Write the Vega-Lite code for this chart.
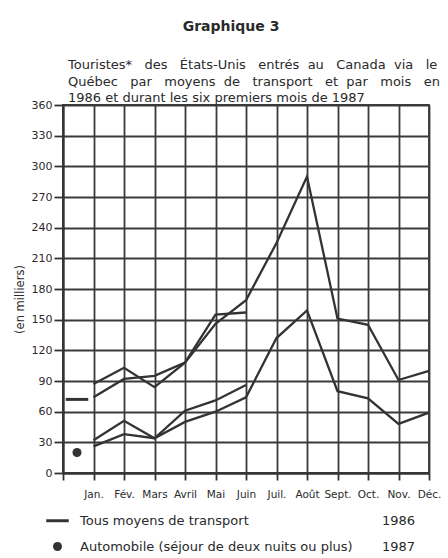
{
  "$schema": "https://vega.github.io/schema/vega-lite/v6.json",
  "background": "white",
  "padding": {"left": 13, "top": 20, "right": 5, "bottom": 5},
  "title": {"text": "Graphique 3", "fontSize": 14, "fontWeight": "bold", "anchor": "middle", "frame": "group", "dx": -15, "offset": 24, "color": "#2a2a2a"},
  "datasets": {
    "series": [
      {"mois": "Jan.", "serie": "Tous moyens 1986", "valeur": 87},
      {"mois": "Fév.", "serie": "Tous moyens 1986", "valeur": 103},
      {"mois": "Mars", "serie": "Tous moyens 1986", "valeur": 84},
      {"mois": "Avril", "serie": "Tous moyens 1986", "valeur": 108},
      {"mois": "Mai", "serie": "Tous moyens 1986", "valeur": 146},
      {"mois": "Juin", "serie": "Tous moyens 1986", "valeur": 169},
      {"mois": "Juil.", "serie": "Tous moyens 1986", "valeur": 225},
      {"mois": "Août", "serie": "Tous moyens 1986", "valeur": 290},
      {"mois": "Sept.", "serie": "Tous moyens 1986", "valeur": 151},
      {"mois": "Oct.", "serie": "Tous moyens 1986", "valeur": 145},
      {"mois": "Nov.", "serie": "Tous moyens 1986", "valeur": 91},
      {"mois": "Déc.", "serie": "Tous moyens 1986", "valeur": 100},
      {"mois": "Jan.", "serie": "Tous moyens 1987", "valeur": 74},
      {"mois": "Fév.", "serie": "Tous moyens 1987", "valeur": 92},
      {"mois": "Mars", "serie": "Tous moyens 1987", "valeur": 95},
      {"mois": "Avril", "serie": "Tous moyens 1987", "valeur": 108},
      {"mois": "Mai", "serie": "Tous moyens 1987", "valeur": 155},
      {"mois": "Juin", "serie": "Tous moyens 1987", "valeur": 157},
      {"mois": "Jan.", "serie": "Automobile 1986", "valeur": 26},
      {"mois": "Fév.", "serie": "Automobile 1986", "valeur": 38},
      {"mois": "Mars", "serie": "Automobile 1986", "valeur": 34},
      {"mois": "Avril", "serie": "Automobile 1986", "valeur": 50},
      {"mois": "Mai", "serie": "Automobile 1986", "valeur": 60},
      {"mois": "Juin", "serie": "Automobile 1986", "valeur": 74},
      {"mois": "Juil.", "serie": "Automobile 1986", "valeur": 132},
      {"mois": "Août", "serie": "Automobile 1986", "valeur": 159},
      {"mois": "Sept.", "serie": "Automobile 1986", "valeur": 80},
      {"mois": "Oct.", "serie": "Automobile 1986", "valeur": 73},
      {"mois": "Nov.", "serie": "Automobile 1986", "valeur": 48},
      {"mois": "Déc.", "serie": "Automobile 1986", "valeur": 59},
      {"mois": "Jan.", "serie": "Automobile 1987", "valeur": 32},
      {"mois": "Fév.", "serie": "Automobile 1987", "valeur": 51},
      {"mois": "Mars", "serie": "Automobile 1987", "valeur": 34},
      {"mois": "Avril", "serie": "Automobile 1987", "valeur": 61},
      {"mois": "Mai", "serie": "Automobile 1987", "valeur": 71},
      {"mois": "Juin", "serie": "Automobile 1987", "valeur": 86}
    ],
    "reperes": [
      {"mois": " ", "repere": "Tous moyens de transport", "valeur": 72},
      {"mois": " ", "repere": "Automobile (séjour de deux nuits ou plus)", "valeur": 20}
    ]
  },
  "vconcat": [
    {
      "width": 366,
      "height": 368,
      "title": {
        "text": [
          "Touristes*\u00a0\u00a0 des\u00a0\u00a0 États-Unis\u00a0\u00a0 entrés\u00a0 au\u00a0\u00a0 Canada\u00a0 via\u00a0\u00a0 le",
          "Québec\u00a0\u00a0 par\u00a0\u00a0 moyens\u00a0 de\u00a0\u00a0 transport\u00a0\u00a0 et\u00a0 par\u00a0\u00a0 mois\u00a0\u00a0 en",
          "1986 et durant les six premiers mois de 1987"
        ],
        "anchor": "start",
        "frame": "group",
        "fontSize": 13,
        "fontWeight": "normal",
        "lineHeight": 16.5,
        "offset": -6,
        "dx": 5,
        "color": "#2a2a2a"
      },
      "layer": [
        {
          "data": {"name": "series"},
          "mark": {"type": "line", "strokeWidth": 2.3, "color": "#333333"},
          "encoding": {
            "x": {
              "field": "mois", "type": "ordinal",
              "scale": {"type": "point", "padding": 0, "domain": [" ", "Jan.", "Fév.", "Mars", "Avril", "Mai", "Juin", "Juil.", "Août", "Sept.", "Oct.", "Nov.", "Déc."]},
              "axis": {"title": null, "labelAngle": 0, "labelFontSize": 10.5, "tickSize": 7, "labelPadding": 9, "grid": true, "labelOverlap": false}
            },
            "y": {
              "field": "valeur", "type": "quantitative",
              "scale": {"domain": [0, 360], "nice": false},
              "axis": {"title": "(en milliers)", "titleFontSize": 11.5, "titlePadding": 6, "titleY": 194, "labelFontSize": 11, "tickSize": 9, "labelPadding": 2, "labelFlush": false, "labelOverlap": false, "grid": true, "tickCount": 20, "values": [0, 30, 60, 90, 120, 150, 180, 210, 240, 270, 300, 330, 360]}
            },
            "detail": {"field": "serie", "type": "nominal"}
          }
        },
        {
          "data": {"name": "reperes"},
          "mark": {"type": "point", "filled": true, "size": 81, "color": "#333333", "opacity": 1, "xOffset": 14},
          "encoding": {
            "x": {
              "field": "mois", "type": "ordinal",
              "axis": {"title": null, "labelAngle": 0, "labelFontSize": 10.5, "tickSize": 7, "labelPadding": 9, "grid": true, "labelOverlap": false}
            },
            "y": {
              "field": "valeur", "type": "quantitative",
              "axis": {"title": "(en milliers)", "titleFontSize": 11.5, "titlePadding": 6, "titleY": 194, "labelFontSize": 11, "tickSize": 9, "labelPadding": 2, "labelFlush": false, "labelOverlap": false, "grid": true, "tickCount": 20, "values": [0, 30, 60, 90, 120, 150, 180, 210, 240, 270, 300, 330, 360]}
            },
            "shape": {
              "field": "repere", "type": "nominal",
              "scale": {
                "domain": ["Tous moyens de transport", "Automobile (séjour de deux nuits ou plus)", "1986", "1987"],
                "range": ["M-2.5,-0.33H2.5V0.33H-2.5Z", "circle", "M0,0", "M0,0"]
              },
              "legend": {
                "title": null, "orient": "none", "legendX": -12, "legendY": 409,
                "columns": 2, "columnPadding": -3, "rowPadding": 12,
                "labelFontSize": 13, "labelColor": "#2a2a2a", "labelLimit": 400, "labelOffset": 16,
                "symbolSize": 81, "symbolFillColor": "#333333", "symbolStrokeWidth": 0, "symbolOpacity": 1,
                "padding": 0
              }
            }
          }
        }
      ]
    }
  ],
  "config": {
    "font": "DejaVu Sans",
    "view": {"stroke": "#3a3a3a", "strokeWidth": 1.8},
    "axis": {
      "domainColor": "#333333", "domainWidth": 2,
      "tickColor": "#333333", "tickWidth": 1.8,
      "gridColor": "#3a3a3a", "gridWidth": 1.8, "gridOpacity": 1,
      "labelColor": "#2a2a2a", "titleColor": "#2a2a2a", "titleFontWeight": "normal"
    }
  }
}
